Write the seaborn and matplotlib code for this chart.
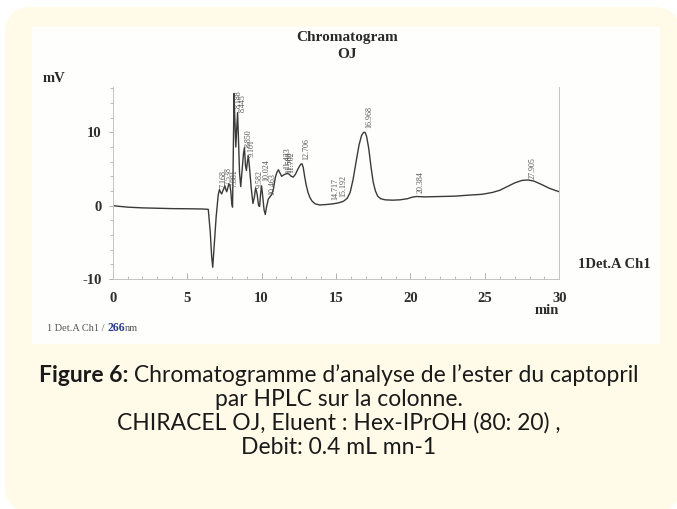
import numpy as np
import pandas as pd
import seaborn as sns
import matplotlib
matplotlib.use("Agg")
import matplotlib.pyplot as plt
from matplotlib.patches import FancyBboxPatch, Rectangle
from matplotlib.ticker import MultipleLocator

# ---------------- data ----------------
time_min = [0, 1, 2, 3, 4, 5, 6, 6.42, 6.55, 6.65, 6.72, 6.80, 6.95, 7.09, 7.17,
            7.25, 7.32, 7.39, 7.46, 7.54, 7.60, 7.66, 7.73, 7.80, 7.87, 7.93, 8.00,
            8.05, 8.10, 8.15, 8.20, 8.27, 8.33, 8.39, 8.45, 8.52, 8.60, 8.70, 8.78,
            8.85, 8.92, 8.98, 9.05, 9.11, 9.20, 9.30, 9.42, 9.52, 9.60, 9.70, 9.80,
            9.87, 9.93, 10.00, 10.08, 10.17, 10.25, 10.33, 10.45, 10.56, 10.68, 10.80,
            10.92, 11.02, 11.13, 11.25, 11.35, 11.48, 11.60, 11.72, 11.85, 12.00,
            12.13, 12.28, 12.42, 12.55, 12.66, 12.72, 12.80, 12.90, 13.00, 13.12,
            13.25, 13.40, 13.60, 13.90, 14.30, 14.80, 15.20, 15.50, 15.75, 15.95,
            16.15, 16.35, 16.55, 16.72, 16.85, 16.95, 17.05, 17.20, 17.35, 17.50,
            17.65, 17.80, 18.0, 18.3, 18.8, 19.3, 19.8, 20.1, 20.4, 21.0, 22.0, 23.0,
            24.0, 24.8, 25.5, 26.0, 26.5, 27.0, 27.5, 27.9, 28.3, 28.8, 29.3, 29.7, 30.0]
signal_mv = [0, -0.2, -0.3, -0.35, -0.4, -0.42, -0.45, -0.5, -3.5, -7.0, -8.4, -6.0, -1.5, 1.5, 2.2,
             1.8, 1.6, 2.0, 2.3, 2.7, 2.2, 1.9, 2.4, 3.0, 2.8, 2.0, 0.3,
             -0.2, 7.0, 15.3, 12.0, 8.0, 10.5, 12.7, 9.0, 4.5, 2.6, 5.0, 7.0,
             7.9, 5.5, 4.8, 6.0, 6.8, 5.0, 2.5, 0.3, 1.2, 2.4, 1.6, 0.0,
             -0.1, 1.5, 2.7, 1.2, -0.6, -1.2, -0.2, 0.9, 1.2, 1.5, 2.3,
             3.8, 4.5, 4.9, 4.4, 4.0, 4.2, 4.3, 4.4, 4.3, 4.0,
             3.9, 4.3, 4.9, 5.4, 5.7, 5.7, 5.2, 3.9, 2.8, 1.8,
             1.1, 0.6, 0.25, 0.1, 0.15, 0.25, 0.4, 0.6, 1.0, 1.8,
             3.6, 6.0, 8.3, 9.6, 10.0, 10.0, 9.5, 7.8, 5.3, 3.2,
             2.0, 1.3, 0.95, 0.8, 0.75, 0.8, 0.95, 1.15, 1.25, 1.2, 1.25, 1.3,
             1.45, 1.55, 1.8, 2.1, 2.6, 3.1, 3.45, 3.5, 3.35, 2.9, 2.4, 2.1, 1.9]

peak_labels = ["7.168", "7.538", "7.881", "8.188", "8.445", "8.850", "9.101", "9.582",
               "10.024", "10.463", "11.433", "11.588", "11.702", "12.706", "14.717",
               "15.192", "16.968", "20.384", "27.905"]
peak_label_mv = [2.4, 2.8, 2.6, 13.3, 12.8, 8.0, 6.7, 2.4, 3.3, 1.5, 5.0, 4.5, 4.5,
                 6.2, 0.8, 1.2, 10.6, 1.7, 3.7]

x_ticks = [0, 5, 10, 15, 20, 25, 30]
y_ticks = [-10, 0, 10]

title_lines = ["Chromatogram", "OJ"]
caption_bold = "Figure 6:"
caption_rest = " Chromatogramme d\u2019analyse de l\u2019ester du captopril"
caption_lines = ["par HPLC sur la colonne.",
                 "CHIRACEL OJ, Eluent : Hex-IPrOH (80: 20) ,",
                 "Debit: 0.4 mL mn-1"]

df = pd.DataFrame({"time": time_min, "mV": signal_mv})

# ---------------- figure ----------------
sns.set_theme(style="white")
plt.rcParams['font.family'] = ['Liberation Serif', 'DejaVu Serif']
plt.rcParams['axes.unicode_minus'] = False

W, H = 677, 509
fig = plt.figure(figsize=(W / 100, H / 100), dpi=100)
fig.patch.set_facecolor("white")

def fx(px):
    return px / W

def fy(py):
    return 1 - py / H

# cream rounded background (in inches -> isotropic corners)
cream = FancyBboxPatch((5 / 100, (H - 512) / 100), 675 / 100, 505 / 100,
                       boxstyle="round,pad=0,rounding_size=0.27",
                       transform=fig.dpi_scale_trans, facecolor="#FFFBE8",
                       edgecolor="none", zorder=-2)
fig.patches.append(cream)
panel = Rectangle((fx(32), fy(344)), fx(660) - fx(32), fy(27) - fy(344),
                  transform=fig.transFigure, facecolor="#FEFEFD",
                  edgecolor="none", zorder=-1)
fig.patches.append(panel)

ax_left, ax_right = 112.7, 559.3
ax_top, ax_bot = 86.9, 279.0
ax = fig.add_axes([fx(ax_left), fy(ax_bot), fx(ax_right) - fx(ax_left), fy(ax_top) - fy(ax_bot)])
ax.set_facecolor("none")

sns.lineplot(data=df, x="time", y="mV", ax=ax, estimator=None, sort=False,
             color="#3a3a3a", linewidth=1.0)

ax.set_xlim(0, 30)
ax.set_ylim(-10, 16.2)
ax.set_xlabel("")
ax.set_ylabel("")
ax.set_xticks(x_ticks)
ax.set_yticks(y_ticks)
ax.xaxis.set_minor_locator(MultipleLocator(1))
ax.yaxis.set_minor_locator(MultipleLocator(2))

ax.spines["top"].set_visible(False)
for s in ["left", "right", "bottom"]:
    ax.spines[s].set_color("#c4c4c4")
    ax.spines[s].set_linewidth(0.7)

ax.tick_params(axis="x", which="both", direction="in", colors="#b0b0b0",
               labelcolor="#2e2e2e", pad=9, labelsize=10.5)
ax.tick_params(axis="x", which="major", length=4, width=0.7, bottom=True)
ax.tick_params(axis="x", which="minor", length=2.5, width=0.6, bottom=True)
ax.tick_params(axis="y", which="both", direction="out", colors="#b0b0b0",
               labelcolor="#2e2e2e", pad=5, labelsize=10.5)
ax.tick_params(axis="y", which="major", length=3, width=0.7, left=True)
ax.tick_params(axis="y", which="minor", length=2, width=0.6, left=True)
for lab in ax.get_xticklabels() + ax.get_yticklabels():
    lab.set_fontweight("bold")

# peak labels
for lab, yv in zip(peak_labels, peak_label_mv):
    ax.text(float(lab), yv, lab, rotation=90, ha="left", va="bottom",
            fontsize=5.8, color="#555555", family="Liberation Serif")

# chart texts
fig.text(fx(347), fy(38), title_lines[0], ha="center", va="center",
         fontsize=11, fontweight="bold", color="#2a2a2a")
fig.text(fx(347), fy(55), title_lines[1], ha="center", va="center",
         fontsize=11, fontweight="bold", color="#2a2a2a")
fig.text(fx(43), fy(78), "mV", ha="left", va="center", fontsize=10.5,
         fontweight="bold", color="#2a2a2a")
fig.text(fx(547), fy(311), "min", ha="center", va="center", fontsize=10.5,
         fontweight="bold", color="#2a2a2a")
fig.text(fx(578), fy(265), "1Det.A Ch1", ha="left", va="center", fontsize=10.5,
         fontweight="bold", color="#2a2a2a")

t_a = fig.text(fx(47), fy(331), "1 Det.A Ch1 / ", ha="left", va="baseline",
               fontsize=7.5, color="#555555")
t_b = fig.text(0, 0, "266", ha="left", va="baseline", fontsize=8.5,
               fontweight="bold", color="#2b3a8c")
t_c = fig.text(0, 0, "nm", ha="left", va="baseline", fontsize=7.5, color="#555555")

# caption
cap_font = ["Lato", "DejaVu Sans"]
cap_size = 16.5
r = fig.canvas.get_renderer()
c1 = fig.text(0, fy(375), caption_bold, fontweight="bold", fontsize=cap_size,
              family=cap_font, color="#1a1a1a", va="center", ha="left")
c2 = fig.text(0, fy(375), caption_rest, fontsize=cap_size, family=cap_font,
              color="#1a1a1a", va="center", ha="left")
w1 = c1.get_window_extent(r).width
w2 = c2.get_window_extent(r).width
x0 = 339 - (w1 + w2) / 2
c1.set_x(fx(x0))
c2.set_x(fx(x0 + w1))
for i, line in enumerate(caption_lines):
    fig.text(fx(339), fy(399 + 24 * i), line, fontsize=cap_size, family=cap_font,
             color="#1a1a1a", ha="center", va="center")

# footnote pieces placed one after another
ea = t_a.get_window_extent(r)
t_b.set_position((ea.x1 / W, fy(331)))
eb = t_b.get_window_extent(r)
t_c.set_position((eb.x1 / W, fy(331)))

fig.savefig("out.png", dpi=100)
